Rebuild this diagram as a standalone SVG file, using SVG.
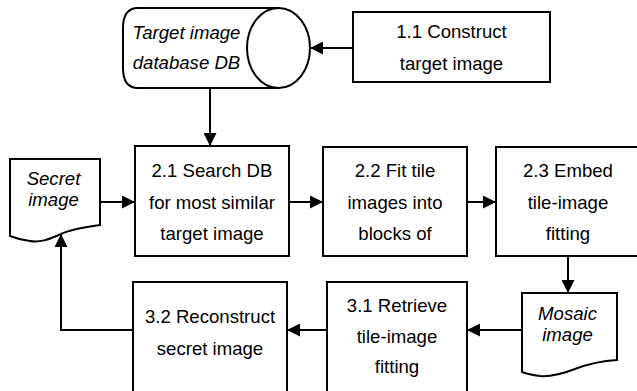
<svg xmlns="http://www.w3.org/2000/svg" width="637" height="391" viewBox="0 0 637 391">
<style>
.box{fill:#fff;stroke:#000;stroke-width:2}
.t{font-family:"Liberation Sans",Arial,sans-serif;font-size:18.6px;fill:#000;text-anchor:middle}
.i{font-style:italic}
.c{fill:none;stroke:#000;stroke-width:2}
</style>
<defs>
<marker id="ah" markerWidth="13" markerHeight="13" refX="13" refY="6.5" orient="auto" markerUnits="userSpaceOnUse"><path d="M0,0 L13,6.5 L0,13 z" fill="#000"/></marker>
</defs>
<rect width="637" height="391" fill="#fff"/>
<g id="db">
<path class="box" d="M278,8 H138 Q123,8 123,28 V68 Q123,88 138,88 H278"/>
<ellipse class="box" cx="278.5" cy="48" rx="31.5" ry="40"/>
<text class="t i" x="186.5" y="39">Target image</text>
<text class="t i" x="186.5" y="69">database DB</text>
</g>
<g id="n11">
<rect class="box" x="353" y="12" width="197" height="70"/>
<text class="t" x="451.5" y="38">1.1 Construct</text>
<text class="t" x="451.5" y="70">target image</text>
</g>
<g id="secret">
<path class="box" d="M10,159 H100 V225 C85,227 72,229 61,234 C50,239 40,243 30,241 C22,240 15,238 10,236 Z"/>
<text class="t i" x="53.5" y="185">Secret</text>
<text class="t i" x="53.5" y="206">image</text>
</g>
<g id="n21">
<rect class="box" x="135" y="146" width="154" height="110"/>
<text class="t" x="212" y="177">2.1 Search DB</text>
<text class="t" x="212" y="208.5">for most similar</text>
<text class="t" x="212" y="240">target image</text>
</g>
<g id="n22">
<rect class="box" x="323" y="147" width="144" height="109"/>
<text class="t" x="395" y="177">2.2 Fit tile</text>
<text class="t" x="395" y="208.5">images into</text>
<text class="t" x="395" y="240">blocks of</text>
</g>
<g id="n23">
<rect class="box" x="496" y="147" width="150" height="109"/>
<text class="t" x="568" y="177">2.3 Embed</text>
<text class="t" x="568" y="208.5">tile-image</text>
<text class="t" x="568" y="240">fitting</text>
</g>
<g id="mosaic">
<path class="box" d="M522,293 H617 V360 C600,361 588,364 575,369 C562,374 552,377 540,376 C532,375 527,374 522,372 Z"/>
<text class="t i" x="567.5" y="320">Mosaic</text>
<text class="t i" x="567.5" y="341">image</text>
</g>
<g id="n31">
<rect class="box" x="327" y="282" width="140" height="120"/>
<text class="t" x="397" y="312">3.1 Retrieve</text>
<text class="t" x="397" y="342.5">tile-image</text>
<text class="t" x="397" y="373">fitting</text>
</g>
<g id="n32">
<rect class="box" x="133" y="282" width="154" height="120"/>
<text class="t" x="210" y="323">3.2 Reconstruct</text>
<text class="t" x="210" y="355">secret image</text>
</g>
<g id="connectors">
<line class="c" x1="353" y1="48" x2="310" y2="48" marker-end="url(#ah)"/>
<line class="c" x1="210" y1="88" x2="210" y2="146" marker-end="url(#ah)"/>
<line class="c" x1="100" y1="202" x2="135" y2="202" marker-end="url(#ah)"/>
<line class="c" x1="289" y1="202" x2="323" y2="202" marker-end="url(#ah)"/>
<line class="c" x1="467" y1="202" x2="496" y2="202" marker-end="url(#ah)"/>
<line class="c" x1="568" y1="256" x2="568" y2="293" marker-end="url(#ah)"/>
<line class="c" x1="522" y1="330" x2="467" y2="330" marker-end="url(#ah)"/>
<line class="c" x1="327" y1="330" x2="287" y2="330" marker-end="url(#ah)"/>
<polyline class="c" points="133,330 61,330 61,234" marker-end="url(#ah)"/>
</g>
</svg>
